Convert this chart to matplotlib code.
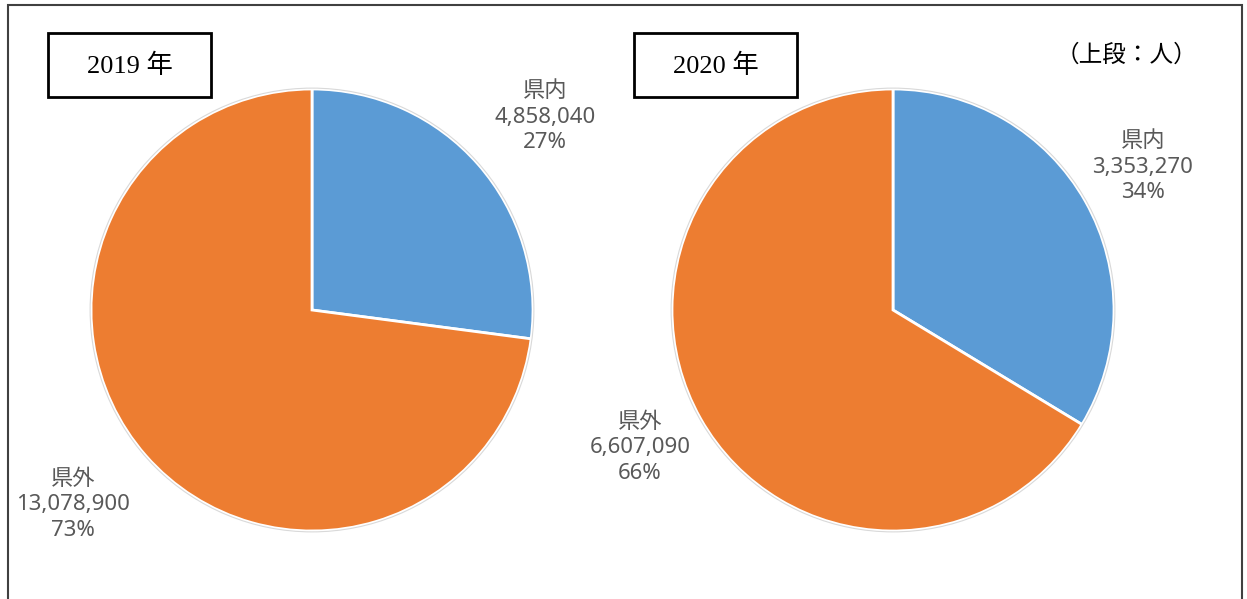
import matplotlib
matplotlib.use("Agg")
import matplotlib.pyplot as plt
from matplotlib.patches import Rectangle, Circle

plt.rcParams['font.family'] = ['Noto Sans', 'Noto Sans CJK JP', 'DejaVu Sans']

# data
years = ["2019 年", "2020 年"]
categories = ["県内", "県外"]
values_2019 = [4858040, 13078900]
values_2020 = [3353270, 6607090]
colors = ["#5B9BD5", "#ED7D31"]
unit_note = "（上段：人）"

W, H = 1247, 599
fig = plt.figure(figsize=(W / 100, H / 100), dpi=100)

# outer frame
fig.patches.append(Rectangle((8 / W, -0.01), (1242 - 8) / W, (H - 5) / H + 0.01,
                             transform=fig.transFigure, fill=False,
                             edgecolor="#404040", linewidth=1.5))


def px_axes(cx, cy, r):
    rr = r * 1.3
    return fig.add_axes([(cx - rr) / W, (H - cy - rr) / H, 2 * rr / W, 2 * rr / H])


def draw_pie(cx, cy, r, vals, title, box_x, label_pos):
    ax = px_axes(cx, cy, r)
    ax.pie(vals, colors=colors, startangle=90, counterclock=False, radius=1,
           wedgeprops=dict(edgecolor="white", linewidth=2))
    ax.add_patch(Circle((0, 0), 1.004, fill=False, edgecolor="#d9d9d9", linewidth=0.8))
    ax.set_xlim(-1.3, 1.3)
    ax.set_ylim(-1.3, 1.3)
    ax.axis("off")
    total = sum(vals)
    for cat, v, (lx, ly) in zip(categories, vals, label_pos):
        txt = f"{cat}\n{v:,}\n{round(v / total * 100)}%"
        ax.text(lx, ly, txt, ha="center", va="center", fontsize=16,
                color="#595959", linespacing=1.3, clip_on=False)
    # title box
    fig.patches.append(Rectangle((box_x / W, (H - 97) / H), 163 / W, 64 / H,
                                 transform=fig.transFigure, fill=False,
                                 edgecolor="black", linewidth=2))
    fig.text((box_x + 81.5) / W, (H - 66) / H, title, ha="center", va="center",
             fontsize=19, family=["Liberation Serif", "Noto Sans CJK JP"])


draw_pie(312, 310, 221, values_2019, years[0], 48,
         [(1.054, 0.873), (-1.081, -0.882)])
draw_pie(893, 310, 221, values_2020, years[1], 634,
         [(1.131, 0.647), (-1.145, -0.624)])

fig.text(1126 / W, (H - 55) / H, unit_note, ha="center", va="center",
         fontsize=17, color="black", family=["Noto Sans CJK JP"])

fig.savefig("out.png", dpi=100)
